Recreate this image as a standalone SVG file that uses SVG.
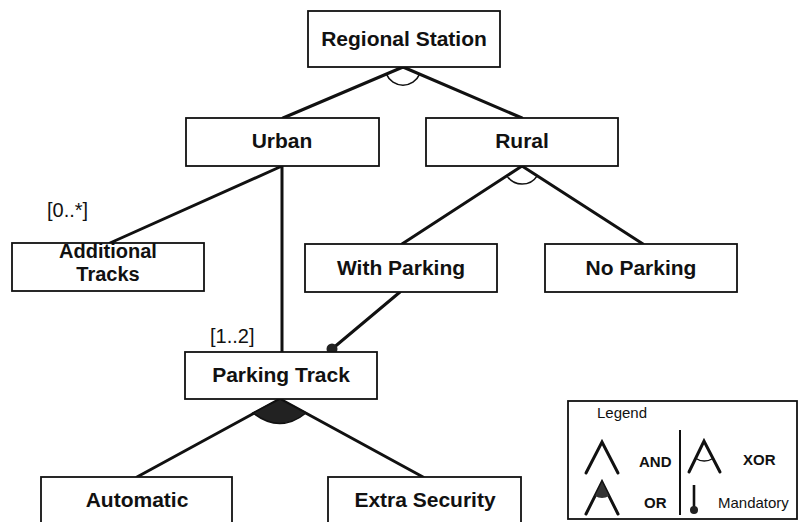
<svg xmlns="http://www.w3.org/2000/svg" width="800" height="522" viewBox="0 0 800 522">
  <style>
    .box { fill: #ffffff; stroke: #111111; stroke-width: 1.8; }
    .lbl { font-family: "Liberation Sans", Arial, sans-serif; font-weight: bold; font-size: 21px; fill: #111111; text-anchor: middle; }
    .lbl2 { font-family: "Liberation Sans", Arial, sans-serif; font-weight: bold; font-size: 20px; fill: #111111; text-anchor: middle; }
    .card { font-family: "Liberation Sans", Arial, sans-serif; font-size: 20px; fill: #111111; }
    .edge { fill: none; stroke: #111111; stroke-width: 3; stroke-linecap: round; }
    .arc { fill: none; stroke: #111111; stroke-width: 1.5; }
    .sym { fill: none; stroke: #111111; stroke-width: 3; stroke-linecap: round; stroke-linejoin: miter; }
    .leg { font-family: "Liberation Sans", Arial, sans-serif; font-size: 15px; fill: #111111; }
    .legb { font-family: "Liberation Sans", Arial, sans-serif; font-size: 15px; font-weight: bold; fill: #111111; }
  </style>
  <rect x="0" y="0" width="800" height="522" fill="#ffffff"/>

  <!-- connectors -->
  <g id="connectors">
    <path class="edge" d="M403,67 L283,118 M403,67 L522,118"/>
    <path class="arc" d="M386.4,74.1 A18,18 0 0 0 419.6,74.1"/>
    <path class="edge" d="M522,166 L402,244 M522,166 L643,244"/>
    <path class="arc" d="M506.9,175.8 A18,18 0 0 0 537.2,175.8"/>
    <path class="edge" d="M282,166 L110,243 M282,166 L282,352"/>
    <path class="edge" d="M400,292 L332,349"/>
    <circle cx="332" cy="349" r="5.5" fill="#222222"/>
    <path class="edge" d="M280,399 L137,477 M280,399 L423,477"/>
    <path d="M280,399 L253,413 Q280,434 306,413 Z" fill="#222222" stroke="#111111" stroke-width="1.5"/>
    <text class="card" x="47" y="217">[0..*]</text>
    <text class="card" x="210" y="343">[1..2]</text>
  </g>

  <g id="regional-station">
    <rect class="box" x="308" y="11" width="192" height="56"/>
    <text class="lbl" x="404" y="46">Regional Station</text>
  </g>
  <g id="urban">
    <rect class="box" x="186" y="118" width="193" height="48"/>
    <text class="lbl" x="282" y="148">Urban</text>
  </g>
  <g id="rural">
    <rect class="box" x="426" y="118" width="192" height="48"/>
    <text class="lbl" x="522" y="148">Rural</text>
  </g>
  <g id="additional-tracks">
    <rect class="box" x="12" y="243" width="192" height="48"/>
    <text class="lbl2" x="108" y="258">Additional</text>
    <text class="lbl2" x="108" y="281">Tracks</text>
  </g>
  <g id="with-parking">
    <rect class="box" x="305" y="244" width="192" height="48"/>
    <text class="lbl" x="401" y="275">With Parking</text>
  </g>
  <g id="no-parking">
    <rect class="box" x="545" y="244" width="192" height="48"/>
    <text class="lbl" x="641" y="275">No Parking</text>
  </g>
  <g id="parking-track">
    <rect class="box" x="185" y="352" width="192" height="47"/>
    <text class="lbl" x="281" y="382">Parking Track</text>
  </g>
  <g id="automatic">
    <rect class="box" x="41" y="477" width="191" height="50"/>
    <text class="lbl" x="137" y="507">Automatic</text>
  </g>
  <g id="extra-security">
    <rect class="box" x="328" y="477" width="193" height="50"/>
    <text class="lbl" x="425" y="507">Extra Security</text>
  </g>

  <!-- legend -->
  <g id="legend">
    <rect x="568" y="401" width="229" height="118" fill="#ffffff" stroke="#111111" stroke-width="1.8"/>
    <text class="leg" x="597" y="418">Legend</text>
    <line x1="680" y1="430" x2="680" y2="515" stroke="#111111" stroke-width="2"/>
    <!-- AND -->
    <path class="sym" d="M586,473 L602,442 L618,473"/>
    <text class="legb" x="639" y="467">AND</text>
    <!-- XOR -->
    <path class="sym" d="M689,472 L704,441 L720,472"/>
    <path d="M695,458 Q704,464 714,458" fill="none" stroke="#111111" stroke-width="1.3"/>
    <text class="legb" x="743" y="465">XOR</text>
    <!-- OR -->
    <path class="sym" d="M586,514 L602,482 L618,514"/>
    <path d="M602,482 L595,496 Q602,500 609,496 Z" fill="#333333"/>
    <text class="legb" x="644" y="508">OR</text>
    <!-- Mandatory -->
    <line x1="694" y1="485" x2="694" y2="508" stroke="#111111" stroke-width="2.6"/>
    <circle cx="694" cy="510" r="4" fill="#222222"/>
    <text class="leg" x="718" y="508">Mandatory</text>
  </g>
</svg>
